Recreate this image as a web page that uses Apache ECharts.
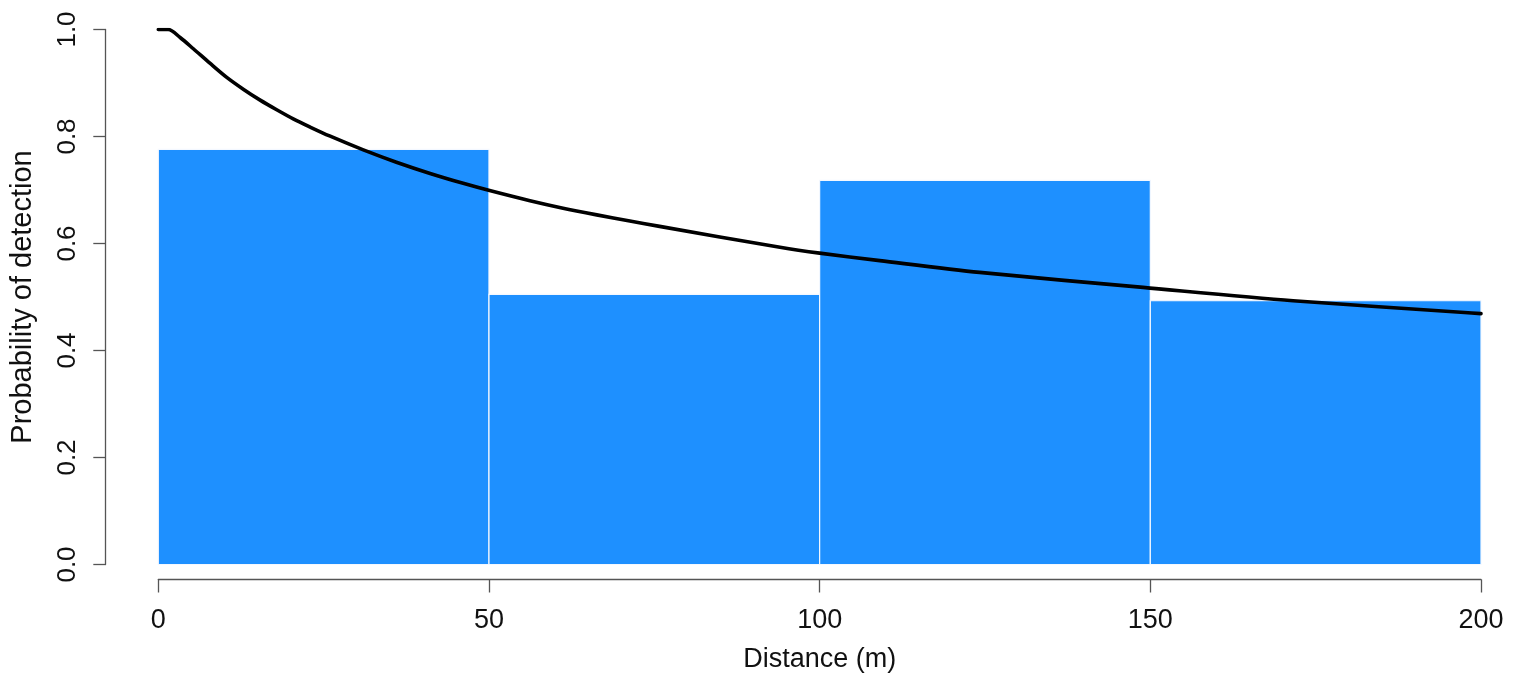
<!DOCTYPE html>
<html>
<head>
<meta charset="utf-8">
<script src="https://cdn.jsdelivr.net/npm/echarts@6/dist/echarts.min.js"></script>
<style>
html,body{margin:0;padding:0;background:#fff;}
#chart{width:1522px;height:687px;}
</style>
</head>
<body>
<div id="chart"></div>
<script>
// Histogram bins (distance, m) and scaled heights
var binStart = [0, 50, 100, 150];
var binEnd = [50, 100, 150, 200];
var binHeight = [0.776, 0.505, 0.718, 0.493];

// Fitted detection function
var curveDistance = [0, 1.5, 3.3, 5.3, 7.8, 10.3, 12.9, 15.4, 17.9, 20.4, 22.9, 25.9, 31.0, 36.0, 41.1, 46.1, 50.1, 56.2, 61.2, 66.3, 71.3, 75.8, 94, 100, 109.1, 124.2, 148.9, 171.6, 197.5, 200];
var curveProb = [1.0, 1.0, 0.985, 0.964, 0.937, 0.911, 0.888, 0.868, 0.850, 0.833, 0.818, 0.801, 0.775, 0.752, 0.731, 0.7125, 0.699, 0.680, 0.666, 0.6535, 0.642, 0.632, 0.593, 0.582, 0.568, 0.546, 0.518, 0.493, 0.471, 0.469];

var xTicks = [0, 50, 100, 150, 200];
var yTicks = [0.0, 0.2, 0.4, 0.6, 0.8, 1.0];

var barData = binStart.map(function (s, i) { return [s, binEnd[i], binHeight[i]]; });
var lineData = curveDistance.map(function (d, i) { return [d, curveProb[i]]; });

var regular = '"Liberation Sans", Arial, sans-serif';

var chart = echarts.init(document.getElementById('chart'), null, {renderer: 'canvas'});
chart.setOption({
  animation: false,
  backgroundColor: '#fff',
  grid: {left: 158.3, right: 41, top: 29.5, bottom: 122.5, containLabel: false},
  xAxis: {
    type: 'value', min: 0, max: 200, interval: 50,
    offset: 15,
    axisLine: {show: true, onZero: false, lineStyle: {color: '#555', width: 1.3}},
    axisTick: {show: true, length: 13, lineStyle: {color: '#555', width: 1.3}},
    splitLine: {show: false},
    axisLabel: {fontFamily: regular, fontSize: 27, color: '#111', margin: 28,
      formatter: function (v) { return xTicks.indexOf(v) >= 0 ? String(v) : ''; }},
    name: 'Distance (m)', nameLocation: 'middle', nameGap: 67,
    nameTextStyle: {fontFamily: regular, fontSize: 27, color: '#111'}
  },
  yAxis: {
    type: 'value', min: 0, max: 1, interval: 0.2,
    offset: 53,
    axisLine: {show: true, onZero: false, lineStyle: {color: '#555', width: 1.3}},
    axisTick: {show: true, length: 12, lineStyle: {color: '#555', width: 1.3}},
    splitLine: {show: false},
    axisLabel: {fontFamily: regular, fontSize: 26, color: '#111', rotate: 90, margin: 24,
      formatter: function (v) { return v.toFixed(1); }},
    name: 'Probability of detection', nameLocation: 'middle', nameRotate: 90, nameGap: 68,
    nameTextStyle: {fontFamily: regular, fontSize: 29, color: '#111'}
  },
  series: [
    {
      type: 'custom',
      data: barData,
      encode: {x: [0, 1], y: 2},
      renderItem: function (params, api) {
        var p0 = api.coord([api.value(0), api.value(2)]);
        var p1 = api.coord([api.value(1), 0]);
        return {
          type: 'rect',
          shape: {x: p0[0], y: p0[1], width: p1[0] - p0[0], height: p1[1] - p0[1]},
          style: {fill: '#1E90FF', stroke: '#f4f8ff', lineWidth: 1.2}
        };
      },
      z: 1
    },
    {
      type: 'line',
      data: lineData,
      showSymbol: false,
      smooth: 0.3,
      lineStyle: {color: '#000', width: 3.6, join: 'round', cap: 'round'},
      z: 2
    }
  ]
});
</script>
</body>
</html>
